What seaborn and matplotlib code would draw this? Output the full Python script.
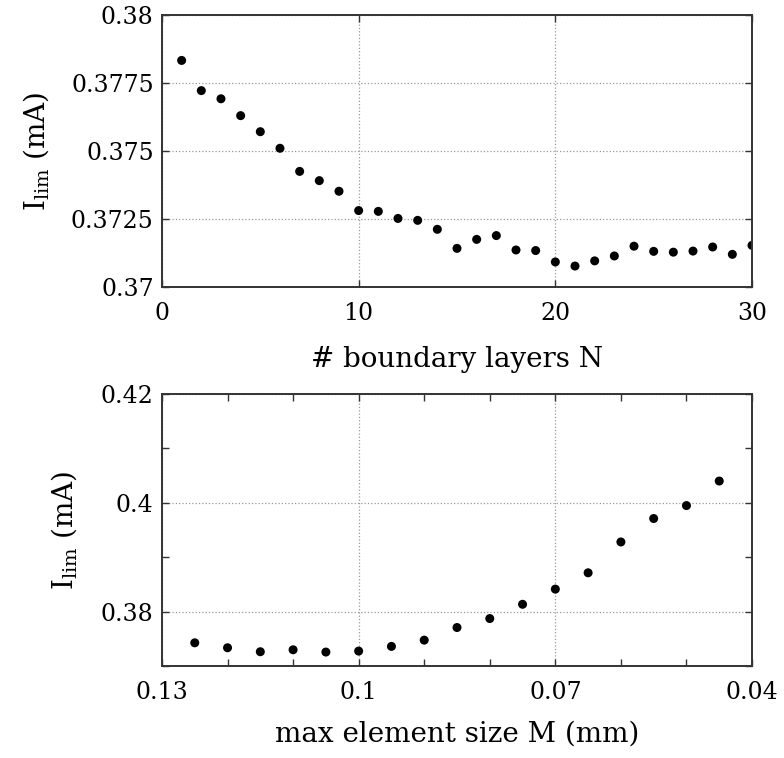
import numpy as np
import pandas as pd
import matplotlib
matplotlib.use("Agg")
import matplotlib.pyplot as plt
import seaborn as sns
from matplotlib.ticker import FixedLocator, FuncFormatter

# ---- data ----
N_layers = list(range(1, 31))
I_lim_N = [0.37833, 0.37722, 0.37692, 0.37630, 0.37571, 0.37510, 0.37425,
           0.37391, 0.37352, 0.37281, 0.37278, 0.37252, 0.37245, 0.37212,
           0.37142, 0.37175, 0.37189, 0.37136, 0.37134, 0.37092, 0.37077,
           0.37096, 0.37114, 0.37150, 0.37131, 0.37128, 0.37132, 0.37147,
           0.37120, 0.37153]

M_size = [0.125, 0.120, 0.115, 0.110, 0.105, 0.100, 0.095, 0.090, 0.085,
          0.080, 0.075, 0.070, 0.065, 0.060, 0.055, 0.050, 0.045]
I_lim_M = [0.37426, 0.37335, 0.37262, 0.37298, 0.37256, 0.37274, 0.37360,
           0.37475, 0.37707, 0.37872, 0.38134, 0.38413, 0.38713, 0.39280,
           0.39711, 0.39949, 0.40400]

top_yticks = [0.37, 0.3725, 0.375, 0.3775, 0.38]
top_xticks = [0, 10, 20, 30]
bot_yticks = [0.38, 0.40, 0.42]
bot_yminor = [0.37, 0.39, 0.41]
bot_xticks = [0.13, 0.10, 0.07, 0.04]
bot_xminor = [0.12, 0.11, 0.09, 0.08, 0.06, 0.05]

df_N = pd.DataFrame({"N": N_layers, "I": I_lim_N})
df_M = pd.DataFrame({"M": M_size, "I": I_lim_M})

sns.set_theme(style="ticks")
plt.rcParams['font.family'] = ['DejaVu Serif']
plt.rcParams['mathtext.fontset'] = 'dejavuserif'
plt.rcParams['text.color'] = 'black'
plt.rcParams['axes.labelcolor'] = 'black'
plt.rcParams['xtick.color'] = 'black'
plt.rcParams['ytick.color'] = 'black'

fig = plt.figure(figsize=(7.84, 7.58), dpi=100)
ax1 = fig.add_axes([0.2066, 0.6214, 0.7526, 0.3588])
ax2 = fig.add_axes([0.2066, 0.1214, 0.7526, 0.3588])

fmt = FuncFormatter(lambda v, p: f"{v:g}")
tick_fs = 17
label_fs = 20

sns.scatterplot(data=df_N, x="N", y="I", ax=ax1, color="black", s=42,
                edgecolor="none", linewidth=0)
sns.scatterplot(data=df_M, x="M", y="I", ax=ax2, color="black", s=42,
                edgecolor="none", linewidth=0)

ax1.set_xlim(0, 30)
ax1.set_ylim(0.37, 0.38)
ax1.xaxis.set_major_locator(FixedLocator(top_xticks))
ax1.yaxis.set_major_locator(FixedLocator(top_yticks))

ax2.set_xlim(0.13, 0.04)
ax2.set_ylim(0.37, 0.42)
ax2.xaxis.set_major_locator(FixedLocator(bot_xticks))
ax2.xaxis.set_minor_locator(FixedLocator(bot_xminor))
ax2.yaxis.set_major_locator(FixedLocator(bot_yticks))
ax2.yaxis.set_minor_locator(FixedLocator(bot_yminor))

for ax in (ax1, ax2):
    ax.xaxis.set_major_formatter(fmt)
    ax.yaxis.set_major_formatter(fmt)
    ax.tick_params(which="both", direction="in", top=True, right=True,
                   length=5, width=1, color="#333333", labelsize=tick_fs,
                   labelcolor="black")
    ax.tick_params(axis="x", which="both", pad=11)
    ax.tick_params(axis="y", which="both", pad=6)
    ax.grid(True, which="major", linestyle=":", linewidth=0.9, color="#999999")
    for sp in ax.spines.values():
        sp.set_linewidth(1.4)
        sp.set_color("#333333")

ax1.set_ylabel(r"I$_{\rm lim}$ (mA)", fontsize=label_fs, labelpad=14)
ax2.set_ylabel(r"I$_{\rm lim}$ (mA)", fontsize=label_fs, labelpad=16)
ax1.set_xlabel("# boundary layers N", fontsize=label_fs, labelpad=15)
ax2.set_xlabel("max element size M (mm)", fontsize=label_fs, labelpad=12)

fig.savefig("out.png", dpi=100)
